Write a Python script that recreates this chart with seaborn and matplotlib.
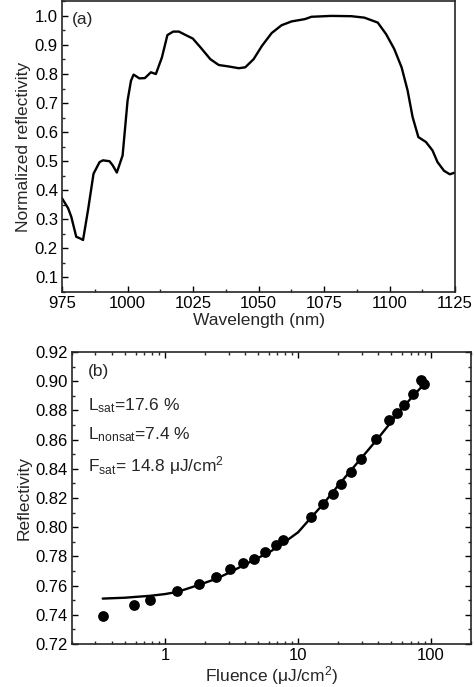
import numpy as np
import pandas as pd
import seaborn as sns
import matplotlib.pyplot as plt
from matplotlib.ticker import MultipleLocator, LogLocator, NullFormatter, FixedLocator

# (a) espectro de refletividade normalizada
wavelength = [975, 977.3, 978.5, 980.4, 981.7, 983, 984.9, 987, 989.3, 990.6, 993.1, 994.3,
              995.9, 998.1, 1000, 1001.3, 1002.3, 1004.5, 1006.6, 1008.9, 1010.8, 1013.1,
              1015.2, 1017.4, 1019.6, 1022.2, 1024.9, 1027.9, 1031.6, 1034.8, 1038.6, 1042.4,
              1044.9, 1048.1, 1051.3, 1055, 1058.8, 1062.6, 1067.7, 1070.2, 1077.8, 1085.4,
              1090.4, 1095.5, 1098.7, 1101.8, 1104.6, 1106.9, 1108.8, 1111, 1113.9, 1116.4,
              1118.3, 1120.8, 1123, 1125]
norm_refl = [0.372, 0.338, 0.309, 0.240, 0.235, 0.229, 0.332, 0.457, 0.497, 0.503, 0.500, 0.486,
             0.461, 0.520, 0.709, 0.777, 0.798, 0.785, 0.786, 0.806, 0.800, 0.857,
             0.934, 0.946, 0.946, 0.934, 0.922, 0.891, 0.851, 0.831, 0.826, 0.820,
             0.823, 0.851, 0.897, 0.941, 0.968, 0.981, 0.989, 0.997, 1.000, 0.999,
             0.994, 0.977, 0.937, 0.886, 0.823, 0.743, 0.652, 0.583, 0.566, 0.537,
             0.497, 0.467, 0.455, 0.461]

# (b) refletividade vs fluência
fluence = [0.34, 0.58, 0.77, 1.24, 1.80, 2.40, 3.06, 3.88, 4.65, 5.69, 6.80, 7.73,
           12.5, 15.5, 18.2, 21.0, 24.8, 29.5, 38.3, 48.5, 55.1, 62.6, 72.8, 84.6, 88.5]
refl = [0.7392, 0.7467, 0.7502, 0.7563, 0.7614, 0.7659, 0.7712, 0.7753, 0.7785, 0.7831,
        0.7877, 0.7913, 0.8071, 0.8162, 0.8229, 0.8299, 0.8377, 0.8469, 0.8601, 0.8731,
        0.8784, 0.8839, 0.8912, 0.9006, 0.8981]

# curva de ajuste
fit_fluence = [0.34, 0.5, 0.77, 1.0, 1.24, 1.8, 2.4, 3.06, 4, 5, 6, 7.7, 10, 12.5,
               15.5, 20, 25, 30, 40, 50, 60, 75, 90]
fit_refl = [0.7511, 0.7517, 0.7530, 0.7542, 0.7557, 0.7605, 0.7645, 0.7690, 0.7745,
            0.7790, 0.7825, 0.7890, 0.7965, 0.8065, 0.8160, 0.8285, 0.8390, 0.8475,
            0.8610, 0.8720, 0.8810, 0.8910, 0.8985]

sns.set_theme(style='ticks')
plt.rcParams['font.family'] = ['Liberation Sans', 'DejaVu Sans']
plt.rcParams['mathtext.default'] = 'regular'
plt.rcParams['axes.linewidth'] = 1.2
plt.rcParams['xtick.direction'] = 'in'
plt.rcParams['ytick.direction'] = 'in'

df_a = pd.DataFrame({'wl': wavelength, 'r': norm_refl})
df_b = pd.DataFrame({'f': fluence, 'r': refl})
df_fit = pd.DataFrame({'f': fit_fluence, 'r': fit_refl})

fig = plt.figure(figsize=(4.74, 6.87), dpi=100)
ax1 = fig.add_axes([0.131, 0.575, 0.829, 0.423])
ax2 = fig.add_axes([0.152, 0.0626, 0.842, 0.425])

# --- painel (a)
sns.lineplot(data=df_a, x='wl', y='r', ax=ax1, color='black', lw=1.7)
ax1.set_xlim(975, 1125)
ax1.set_ylim(0.05, 1.05)
ax1.xaxis.set_major_locator(MultipleLocator(25))
ax1.xaxis.set_minor_locator(MultipleLocator(12.5))
ax1.yaxis.set_major_locator(FixedLocator([0.1, 0.2, 0.3, 0.4, 0.5, 0.6, 0.7, 0.8, 0.9, 1.0]))
ax1.yaxis.set_minor_locator(MultipleLocator(0.05))
ax1.tick_params(which='major', length=4, width=1, labelsize=12, colors='black', pad=3)
ax1.tick_params(which='minor', length=2.5, width=1)
ax1.set_xlabel('Wavelength (nm)', fontsize=12.5, labelpad=1)
ax1.set_ylabel('Normalized reflectivity', fontsize=12.5, labelpad=3)
ax1.text(0.025, 0.965, '(a)', transform=ax1.transAxes, fontsize=12.5, va='top')

# --- painel (b)
sns.lineplot(data=df_fit, x='f', y='r', ax=ax2, color='black', lw=1.7)
sns.scatterplot(data=df_b, x='f', y='r', ax=ax2, color='black', s=60, edgecolor='black', linewidth=0)
ax2.set_xscale('log')
ax2.set_xlim(0.2, 200)
ax2.set_ylim(0.72, 0.92)
ax2.xaxis.set_minor_locator(LogLocator(base=10, subs=np.arange(2, 10), numticks=10))
ax2.xaxis.set_minor_formatter(NullFormatter())
ax2.set_xticks([1, 10, 100])
ax2.set_xticklabels(['1', '10', '100'])
ax2.yaxis.set_major_locator(MultipleLocator(0.02))
ax2.yaxis.set_minor_locator(MultipleLocator(0.01))
ax2.yaxis.set_major_formatter(plt.FormatStrFormatter('%.2f'))
ax2.tick_params(which='both', top=True, right=True)
ax2.tick_params(which='major', length=4, width=1, labelsize=12, colors='black', pad=3)
ax2.tick_params(which='minor', length=2.5, width=1)
ax2.set_xlabel('Fluence (μJ/cm$^2$)', fontsize=12.5, labelpad=1)
ax2.set_ylabel('Reflectivity', fontsize=12.5, labelpad=3)
ax2.text(0.04, 0.96, '(b)', transform=ax2.transAxes, fontsize=12.5, va='top')
ax2.text(0.04, 0.85, 'L$_{sat}$=17.6 %', transform=ax2.transAxes, fontsize=12.5, va='top')
ax2.text(0.04, 0.75, 'L$_{nonsat}$=7.4 %', transform=ax2.transAxes, fontsize=12.5, va='top')
ax2.text(0.04, 0.65, 'F$_{sat}$= 14.8 μJ/cm$^2$', transform=ax2.transAxes, fontsize=12.5, va='top')

fig.savefig('out.png', dpi=100)
